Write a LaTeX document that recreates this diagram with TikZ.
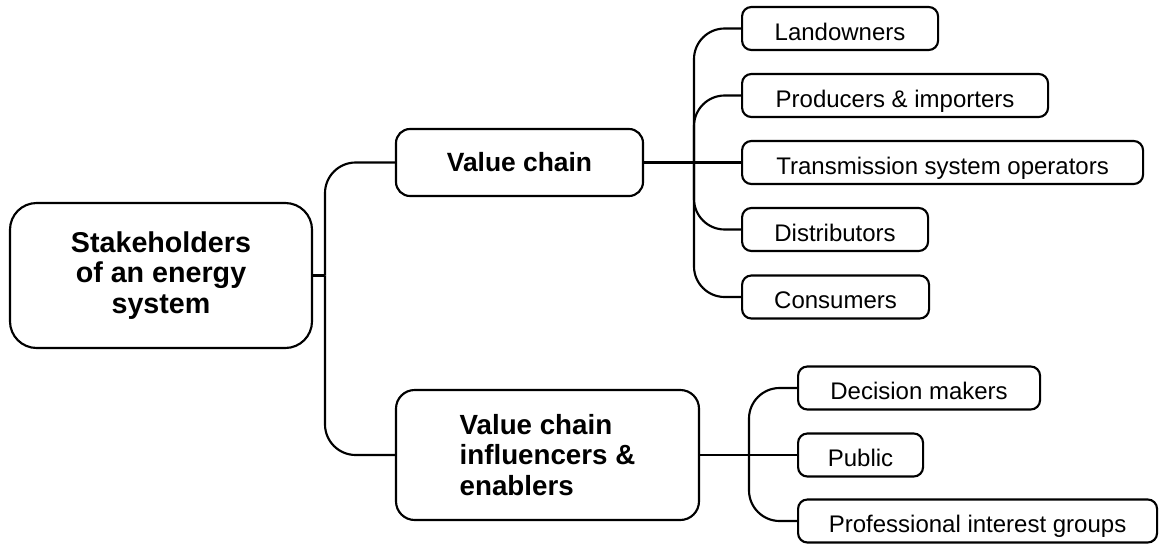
\documentclass[tikz,border=0pt]{standalone}
\usepackage{fontspec}
\setmainfont{Liberation Sans}

\tikzset{
  mainbox/.style={draw, line width=1.6pt, rounded corners=#1, inner sep=0pt,
    font=\fontsize{20.5pt}{23pt}\selectfont\bfseries},
  mainbox/.default=14pt,
  leafbox/.style={draw, line width=1.6pt, rounded corners=7pt, inner sep=0pt,
    anchor=west, minimum height=32.25pt, text height=17.5pt, text depth=0pt,
    font=\fontsize{18pt}{21pt}\selectfont},
  branch/.style={line width=1.6pt, rounded corners=23pt},
}

\begin{document}
\begin{tikzpicture}[x=0.75pt,y=0.75pt,yscale=-1,xscale=1]
\useasboundingbox (0,0) rectangle (1161,543);

%Shape: Rounded Rect - root
\node [mainbox=20pt, align=center, minimum width=226.5pt, minimum height=108.75pt,
  font=\fontsize{21.5pt}{23pt}\selectfont\bfseries] (root) at (161,275.5) {Stakeholders\\of an energy\\system};
%Shape: Rounded Rect - value chain
\node [mainbox=10.5pt, minimum width=185.25pt, minimum height=50.25pt,
  font=\fontsize{19.8pt}{23pt}\selectfont\bfseries] (vc) at (519.5,162.5) {Value chain};
%Shape: Rounded Rect - influencers
\node [mainbox, align=left, minimum width=227.25pt, minimum height=97.5pt,
  font=\fontsize{20.8pt}{23pt}\selectfont\bfseries] (infl) at (547.5,455) {Value chain\\influencers \&\\enablers};

% Leaves of the value chain
\node [leafbox, minimum width=147pt] (land) at (741,28.5) {Landowners};
\node [leafbox, minimum width=229.5pt] (prod) at (741,95.5) {Producers \& importers};
\node [leafbox, minimum width=300.75pt] (trans) at (741,162.5) {Transmission system operators};
\node [leafbox, minimum width=139.5pt] (dist) at (741,229.5) {Distributors};
\node [leafbox, minimum width=140.25pt] (cons) at (741,297) {Consumers};

% Leaves of the influencers
\node [leafbox, minimum width=181.5pt] (dec) at (797,388) {Decision makers};
\node [leafbox, minimum width=93.75pt] (pub) at (797,455) {Public};
\node [leafbox, minimum width=269.25pt] (prof) at (797,521) {Professional interest groups};

%Straight Lines - root to its two branches
\coordinate (hubL) at (325,275.5);
\draw [branch] (root.east) -- (hubL);
\draw [branch] (hubL) |- (vc.west);
\draw [branch] (hubL) |- (infl.west);

%Straight Lines - value chain fan
\coordinate (hubV) at (694,162.5);
\draw [branch] (vc.east) -- (trans.west);
\foreach \n in {land,prod,dist,cons}
  \draw [branch] (hubV) |- (\n.west);

%Straight Lines - influencers fan
\coordinate (hubI) at (749,455);
\draw [branch] (infl.east) -- (pub.west);
\foreach \n in {dec,prof}
  \draw [branch] (hubI) |- (\n.west);

\end{tikzpicture}
\end{document}
